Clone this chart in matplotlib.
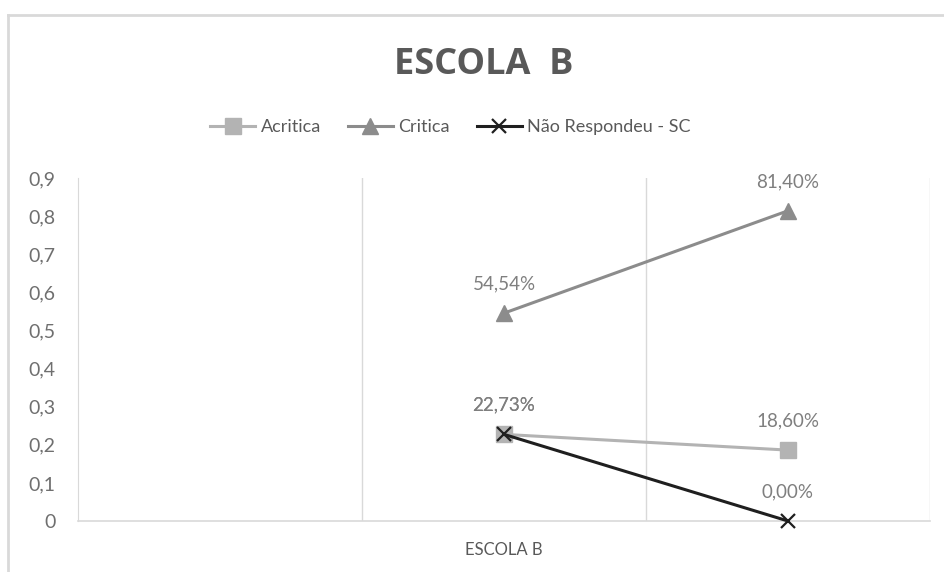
import numpy as np
import matplotlib.pyplot as plt
from matplotlib.lines import Line2D

plt.rcParams['font.family'] = ['Lato', 'DejaVu Sans']

# categories on the x axis (first and last slots are empty in the source chart)
categories = ["", "ESCOLA B", ""]
acritica = [np.nan, 0.2273, 0.1860]
critica = [np.nan, 0.5454, 0.8140]
nao_resp = [np.nan, 0.2273, 0.0]
yticks = [0, 0.1, 0.2, 0.3, 0.4, 0.5, 0.6, 0.7, 0.8, 0.9]
ytick_labels = ["0", "0,1", "0,2", "0,3", "0,4", "0,5", "0,6", "0,7", "0,8", "0,9"]


def pct(v):
    return ("%.2f%%" % (v * 100)).replace(".", ",")


fig = plt.figure(figsize=(9.44, 5.72), dpi=100)
ax = fig.add_axes([78 / 944, 51 / 572, 852 / 944, 343 / 572])

x = np.arange(len(categories))
ax.plot(x, acritica, color="#b3b3b3", lw=2.2, marker="s", ms=11, label="Acritica",
        zorder=3, clip_on=False)
ax.plot(x, critica, color="#8c8c8c", lw=2.2, marker="^", ms=12, label="Critica",
        zorder=3, clip_on=False)
ax.plot(x, nao_resp, color="#1f1f1f", lw=2.2, marker="x", ms=10, mew=1.6,
        label="Não Respondeu - SC", zorder=4, clip_on=False)

# data labels
for series in (acritica, critica, nao_resp):
    for xi, v in zip(x, series):
        if np.isnan(v):
            continue
        ax.annotate(pct(v), xy=(xi, v), xytext=(0, 15), textcoords="offset points",
                    ha="center", va="bottom", fontsize=13.5, color="#7f7f7f")

ax.set_xlim(-0.5, 2.5)
ax.set_ylim(0, 0.9)
ax.set_yticks(yticks)
ax.set_yticklabels(ytick_labels, fontsize=14, color="#6f6f6f")
ax.set_xticks(x)
ax.set_xticklabels(categories, fontsize=12, color="#595959")
ax.tick_params(length=0)
ax.tick_params(axis="y", pad=16)
ax.tick_params(axis="x", pad=15)

for s in ("top", "right"):
    ax.spines[s].set_visible(False)
ax.spines["left"].set_color("#d9d9d9")
ax.spines["bottom"].set_color("#d9d9d9")
ax.spines["bottom"].set_linewidth(1.2)
for gx in (0.5, 1.5, 2.5):
    ax.axvline(gx, color="#d9d9d9", lw=1, zorder=0)

fig.text(0.512, 0.886, "ESCOLA  B", ha="center", va="center", fontsize=26,
         fontweight="bold", color="#595959", family="Open Sans")

ax.legend(loc="center", bbox_to_anchor=(0.477, 0.778), bbox_transform=fig.transFigure,
          ncol=3, frameon=False, fontsize=13, labelcolor="#595959",
          handlelength=2.5, handletextpad=0.28, columnspacing=1.5)

# outer chart frame
fig.add_artist(Line2D([8 / 944, 8 / 944], [0, 1 - 15 / 572], color="#d9d9d9", lw=2))
fig.add_artist(Line2D([8 / 944, 1], [1 - 15 / 572, 1 - 15 / 572], color="#d9d9d9", lw=2))

fig.savefig("out.png", dpi=100)
